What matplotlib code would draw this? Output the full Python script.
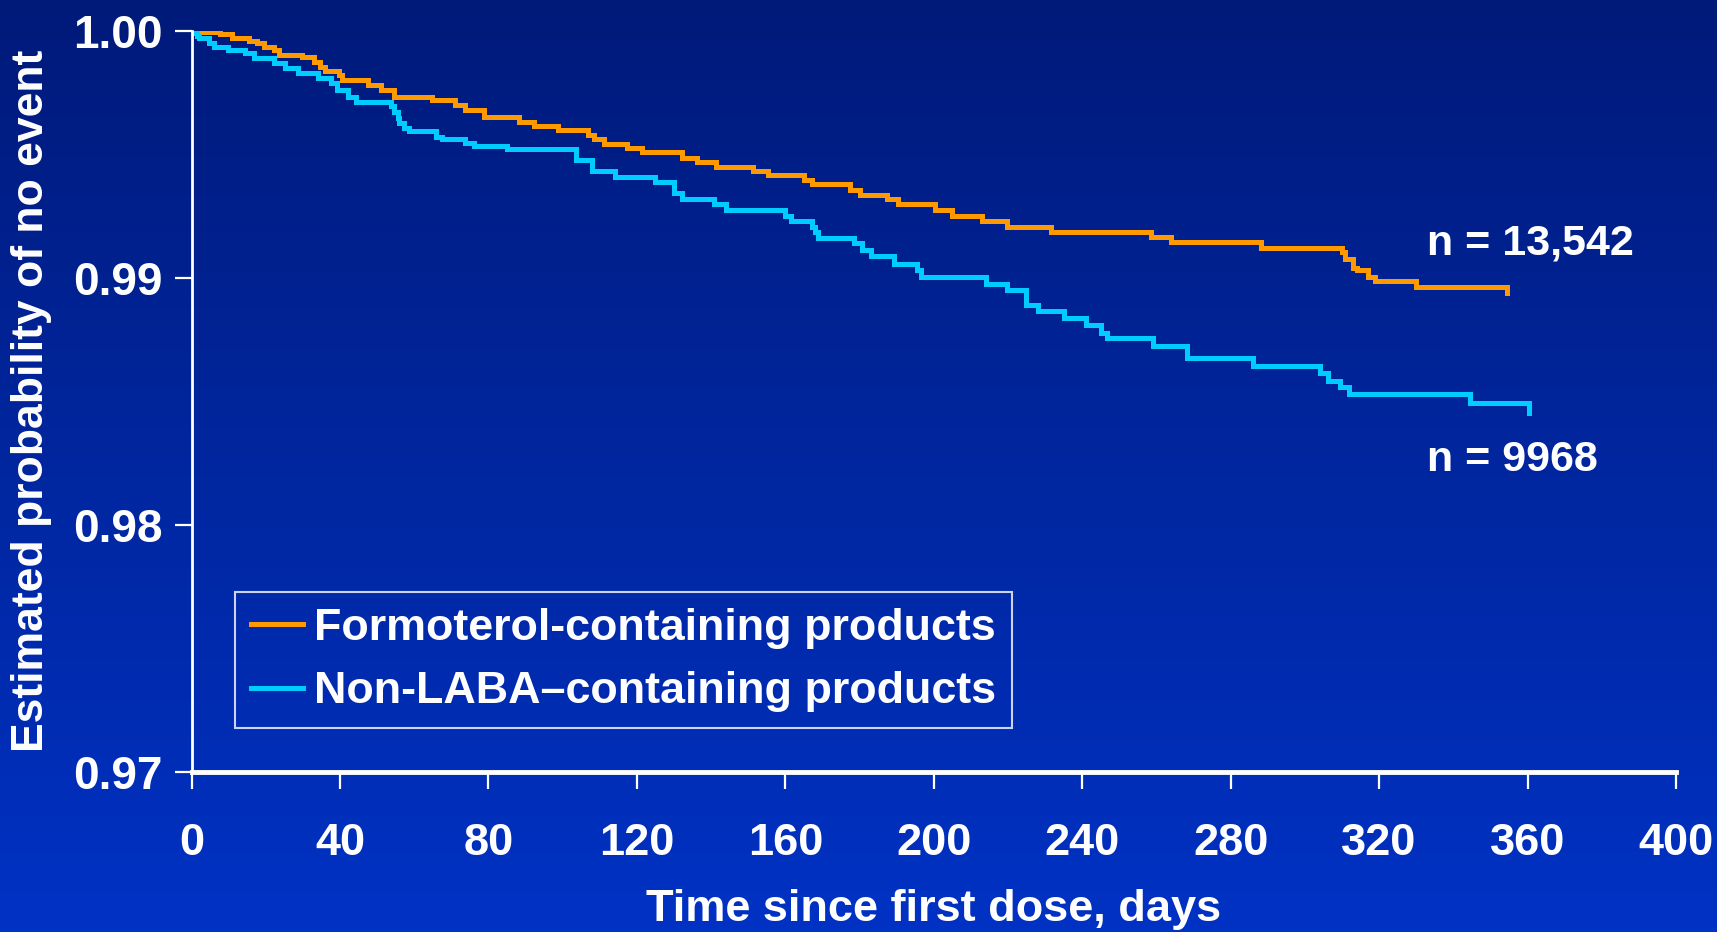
import numpy as np
import matplotlib
matplotlib.use("Agg")
import matplotlib.pyplot as plt
from matplotlib.colors import LinearSegmentedColormap

# ---- data ----
formo_days = [0, 2.5, 7.7, 10.8, 15.4, 17.5, 19.5, 22.1, 23.6, 29.8, 32.9, 34.5, 36.0, 39.6,
              40.5, 47.4, 51.0, 54.6, 64.9, 71.1, 73.7, 78.8, 88.1, 92.2, 98.6, 106.9, 108.4,
              111.0, 117.2, 121.3, 132.1, 136.2, 141.4, 151.2, 155.3, 165.1, 167.2, 177.5,
              180.1, 187.3, 190.4, 200.2, 204.8, 213.1, 219.7, 231.6, 258.5, 263.8, 288.2,
              309.9, 310.9, 313.0, 314.0, 317.0, 318.9, 330.0, 354.4]
formo_surv = [1.0, 0.99993, 0.99985, 0.99969, 0.99960, 0.99949, 0.99935, 0.99922, 0.99902,
              0.99892, 0.99875, 0.99854, 0.99838, 0.99821, 0.99800, 0.99780, 0.99760, 0.99733,
              0.99720, 0.99699, 0.99679, 0.99650, 0.99632, 0.99614, 0.99598, 0.99578, 0.99560,
              0.99540, 0.99524, 0.99508, 0.99486, 0.99470, 0.99447, 0.99432, 0.99417, 0.99396,
              0.99380, 0.99355, 0.99334, 0.99319, 0.99297, 0.99274, 0.99251, 0.99229, 0.99207,
              0.99186, 0.99166, 0.99146, 0.99122, 0.99106, 0.99076, 0.99040, 0.99032, 0.99005,
              0.98988, 0.98964, 0.98937]

nonlaba_days = [0, 0.8, 1.5, 2.0, 4.6, 6.1, 9.7, 14.4, 16.9, 22.1, 25.2, 28.8, 34.0, 37.6,
                39.1, 42.2, 44.3, 53.6, 54.5, 55.5, 56.0, 57.2, 58.7, 65.9, 67.5, 73.7, 76.2,
                85.0, 103.5, 107.9, 114.1, 124.9, 130.1, 132.1, 140.9, 144.0, 160.0, 161.5,
                167.2, 168.0, 168.7, 178.5, 180.6, 183.2, 189.3, 195.5, 196.5, 214.1, 219.7,
                224.9, 228.0, 235.2, 240.9, 245.0, 246.6, 259.0, 268.1, 286.1, 304.1, 306.2,
                309.4, 312.0, 344.4, 360.3]
nonlaba_surv = [1.0, 0.99990, 0.99980, 0.99969, 0.99949, 0.99935, 0.99922, 0.99909, 0.99888,
                0.99868, 0.99848, 0.99828, 0.99807, 0.99787, 0.99760, 0.99733, 0.99713,
                0.99695, 0.99670, 0.99645, 0.99625, 0.99605, 0.99594, 0.99571, 0.99560,
                0.99544, 0.99533, 0.99521, 0.99477, 0.99432, 0.99408, 0.99386, 0.99342,
                0.99319, 0.99297, 0.99274, 0.99251, 0.99229, 0.99207, 0.99185, 0.99162,
                0.99140, 0.99113, 0.99088, 0.99056, 0.99032, 0.99004, 0.98975, 0.98951,
                0.98890, 0.98867, 0.98837, 0.98808, 0.98778, 0.98755, 0.98725, 0.98674,
                0.98643, 0.98613, 0.98582, 0.98559, 0.98529, 0.98492, 0.98452]

series_labels = ["Formoterol-containing products", "Non-LABA\u2013containing products"]
n_labels = ["n = 13,542", "n = 9968"]
x_ticks = [0, 40, 80, 120, 160, 200, 240, 280, 320, 360, 400]
y_ticks = [0.97, 0.98, 0.99, 1.00]
y_tick_labels = ["0.97", "0.98", "0.99", "1.00"]

ORANGE = "#FF9900"
CYAN = "#00CCFF"
WHITE = "white"

plt.rcParams['font.family'] = ['Liberation Sans', 'DejaVu Sans']
plt.rcParams['font.weight'] = 'bold'

fig = plt.figure(figsize=(17.17, 9.32), dpi=100)

# gradient background
bg = fig.add_axes([0, 0, 1, 1], zorder=-10)
cmap = LinearSegmentedColormap.from_list("bg", ["#0032C4", "#001A7A"])
grad = np.linspace(0, 1, 256).reshape(-1, 1)
bg.imshow(grad, aspect='auto', cmap=cmap, origin='lower', extent=[0, 1, 0, 1])
bg.axis('off')

ax = fig.add_axes([191.6 / 1717, 1 - 772 / 932, (1676 - 191.6) / 1717, (772 - 30.7) / 932])
ax.patch.set_alpha(0)

ax.step(formo_days, formo_surv, where='post', color=ORANGE, lw=3.6,
        label=series_labels[0], solid_joinstyle='miter', zorder=3)
ax.step(nonlaba_days, nonlaba_surv, where='post', color=CYAN, lw=3.6,
        label=series_labels[1], solid_joinstyle='miter', zorder=3)

ax.set_xlim(0, 400)
ax.set_ylim(0.97, 1.00)
ax.set_xticks(x_ticks)
ax.set_xticklabels([str(t) for t in x_ticks])
ax.set_yticks(y_ticks)
ax.set_yticklabels(y_tick_labels)

for s in ['top', 'right']:
    ax.spines[s].set_visible(False)
ax.spines['left'].set_color(WHITE)
ax.spines['left'].set_linewidth(2)
ax.spines['bottom'].set_color(WHITE)
ax.spines['bottom'].set_linewidth(3.5)
ax.spines['left'].set_zorder(4)

ax.tick_params(axis='x', direction='out', length=12, width=1.6, color=WHITE,
               labelcolor=WHITE, labelsize=32.5, pad=25)
ax.tick_params(axis='y', direction='out', length=12, width=1.6, color=WHITE,
               labelcolor=WHITE, labelsize=33, pad=9)
for lab in ax.get_xticklabels() + ax.get_yticklabels():
    lab.set_fontweight('bold')

ax.set_xlabel("Time since first dose, days", color=WHITE, fontsize=32.5, fontweight='bold')
ax.xaxis.set_label_coords(0.5, -0.158)
ax.set_ylabel("Estimated probability of no event", color=WHITE, fontsize=32, fontweight='bold')
ax.yaxis.set_label_coords(-0.094, 0.5)

ax.text(333, 0.99138, n_labels[0], color=WHITE, fontsize=31, fontweight='bold',
        ha='left', va='center')
ax.text(333, 0.98261, n_labels[1], color=WHITE, fontsize=31, fontweight='bold',
        ha='left', va='center')

leg = ax.legend(loc='lower left', bbox_to_anchor=(0.0292, 0.0594), borderaxespad=0,
                fontsize=32.3, frameon=True, fancybox=False, handlelength=1.17,
                handletextpad=0.25, labelspacing=0.5, borderpad=0.35)
leg.get_frame().set_facecolor('none')
leg.get_frame().set_edgecolor(WHITE)
leg.get_frame().set_linewidth(1.5)
for t in leg.get_texts():
    t.set_color(WHITE)
    t.set_fontweight('bold')

fig.savefig("out.png", dpi=100)
